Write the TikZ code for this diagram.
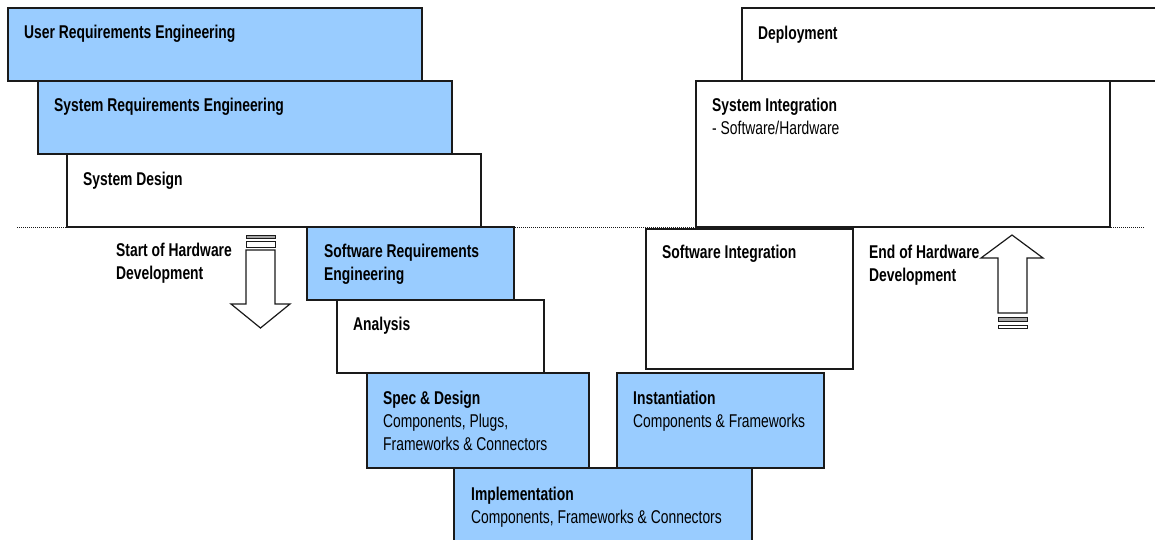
\documentclass[tikz,border=0pt]{standalone}
\usepackage{fontspec}
\setmainfont[FakeStretch=0.75]{Liberation Sans}
\usetikzlibrary{calc}
\definecolor{vblue}{HTML}{99CCFF}
\definecolor{vline}{HTML}{1A1A1A}
\tikzset{
  stage/.style={draw=vline, line width=1.4pt, anchor=north west, inner sep=0pt, outer sep=0pt},
  bluestage/.style={stage, fill=vblue},
  whitestage/.style={stage, fill=white},
  lbl/.style={anchor=north west, inner sep=0pt, align=left, font=\fontsize{18.5}{23}\selectfont},
  blockarrow/.style={draw=vline, line width=1.2pt, fill=white},
  graybar/.style={draw=vline, line width=0.8pt, fill=gray!70},
  whitebar/.style={draw=vline, line width=0.8pt, fill=white},
}
\begin{document}
\begin{tikzpicture}[x=1pt, y=-1pt]
\useasboundingbox (0,0) rectangle (1155,540);
% dotted horizon
\coordinate (dl) at (17,227);
\coordinate (dr) at (1145,227);
\draw[vline, line width=1pt, densely dotted] (dl) -- (dr);
% left side
\node[bluestage, minimum width=414pt, minimum height=73pt] (ure) at (8,8) {};
\node[lbl] (urel) at ($(ure.north west)+(16,17)$) {\textbf{User Requirements Engineering}};
\node[bluestage, minimum width=414pt, minimum height=73pt] (sre) at (38,81) {};
\node[lbl] (srel) at ($(sre.north west)+(16,17)$) {\textbf{System Requirements Engineering}};
\node[whitestage, minimum width=414pt, minimum height=73pt] (sd) at (67,154) {};
\node[lbl] (sdl) at ($(sd.north west)+(16,18)$) {\textbf{System Design}};
\node[bluestage, minimum width=207pt, minimum height=73pt] (swre) at (307,227) {};
\node[lbl] (swrel) at ($(swre.north west)+(17,17)$) {\textbf{Software Requirements}\\\textbf{Engineering}};
\node[whitestage, minimum width=207pt, minimum height=73pt] (an) at (337,300) {};
\node[lbl] (anl) at ($(an.north west)+(16,17)$) {\textbf{Analysis}};
\node[bluestage, minimum width=222pt, minimum height=95pt] (spec) at (367,373) {};
\node[lbl] (specl) at ($(spec.north west)+(16,18)$) {\textbf{Spec \& Design}\\Components, Plugs,\\Frameworks \& Connectors};
% right side
\node[whitestage, minimum width=430pt, minimum height=73pt] (dep) at (742,8) {};
\node[lbl] (depl) at ($(dep.north west)+(16,18)$) {\textbf{Deployment}};
\node[whitestage, minimum width=414pt, minimum height=146pt] (si) at (696,81) {};
\node[lbl] (sil) at ($(si.north west)+(16,17)$) {\textbf{System Integration}\\- Software/Hardware};
\node[whitestage, minimum width=207pt, minimum height=140pt] (swi) at (646,229) {};
\node[lbl] (swil) at ($(swi.north west)+(16,16)$) {\textbf{Software Integration}};
\node[bluestage, minimum width=207pt, minimum height=95pt] (inst) at (617,373) {};
\node[lbl] (instl) at ($(inst.north west)+(16,18)$) {\textbf{Instantiation}\\Components \& Frameworks};
\node[bluestage, minimum width=298pt, minimum height=90pt] (impl) at (454,468) {};
\node[lbl] (impll) at ($(impl.north west)+(17,19)$) {\textbf{Implementation}\\Components, Frameworks \& Connectors};
% hardware labels
\node[lbl] (shw) at (116,243) {\textbf{Start of Hardware}\\\textbf{Development}};
\node[lbl] (ehw) at (869,245) {\textbf{End of Hardware}\\\textbf{Development}};
% start arrow (down)
\draw[graybar] (246,235) rectangle (275,238);
\draw[whitebar] (246,241) rectangle (275,247);
\draw[blockarrow] (246,250) -- (275,250) -- (275,304) -- (290,304) -- (260.5,328) -- (231,304) -- (246,304) -- cycle;
% end arrow (up)
\draw[blockarrow] (998,313) -- (1027,313) -- (1027,258) -- (1043,258) -- (1012,235) -- (981,258) -- (998,258) -- cycle;
\draw[graybar] (998,317) rectangle (1027,321);
\draw[whitebar] (998,325) rectangle (1027,328);
\end{tikzpicture}
\end{document}
